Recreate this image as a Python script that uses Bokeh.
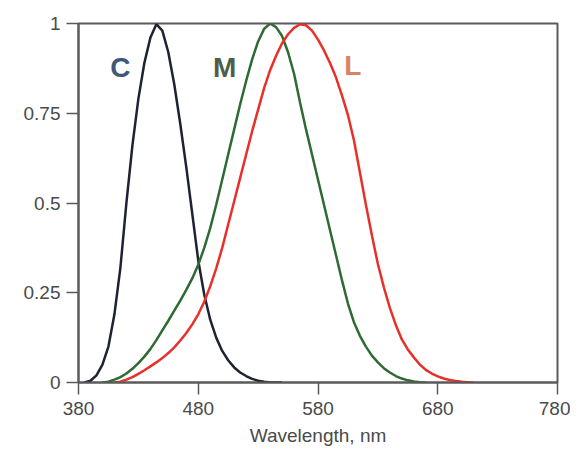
from bokeh.plotting import figure
from bokeh.models import Range1d, FixedTicker, Label
from bokeh.embed import file_html
from bokeh.resources import INLINE

# S-cone (C)
c_wl = [385, 390, 395, 400, 405, 410, 415, 420, 425, 430, 435, 440, 445, 450, 455, 460,
        465, 470, 475, 480, 485, 490, 495, 500, 505, 510, 515, 520, 525, 530, 535, 540, 550]
c_val = [0.0, 0.005, 0.02, 0.05, 0.1, 0.19, 0.32, 0.5, 0.66, 0.79, 0.89, 0.96, 0.998, 0.98,
         0.92, 0.83, 0.72, 0.6, 0.47, 0.34, 0.245, 0.175, 0.125, 0.088, 0.062, 0.042, 0.028,
         0.018, 0.01, 0.005, 0.002, 0.0, 0.0]

# M-cone
m_wl = [400, 405, 410, 415, 420, 425, 430, 435, 440, 445, 450, 455, 460, 465, 470, 475,
        480, 485, 490, 495, 500, 505, 510, 515, 520, 525, 530, 535, 540, 545, 550, 555,
        560, 565, 570, 575, 580, 585, 590, 595, 600, 605, 610, 615, 620, 625, 630, 635,
        640, 645, 650, 655, 660, 665, 670]
m_val = [0.0, 0.002, 0.008, 0.015, 0.025, 0.038, 0.054, 0.072, 0.093, 0.118, 0.145, 0.172,
         0.2, 0.228, 0.258, 0.29, 0.328, 0.375, 0.43, 0.495, 0.565, 0.635, 0.705, 0.775,
         0.84, 0.9, 0.95, 0.985, 1.0, 0.99, 0.965, 0.92, 0.86, 0.78, 0.705, 0.635, 0.565,
         0.495, 0.425, 0.355, 0.285, 0.22, 0.168, 0.13, 0.1, 0.075, 0.056, 0.04, 0.028,
         0.018, 0.011, 0.006, 0.003, 0.001, 0.0]

# L-cone
l_wl = [410, 415, 420, 425, 430, 435, 440, 445, 450, 455, 460, 465, 470, 475, 480, 485,
        490, 495, 500, 505, 510, 515, 520, 525, 530, 535, 540, 545, 550, 555, 560, 565,
        570, 575, 580, 585, 590, 595, 600, 605, 610, 615, 620, 625, 630, 635, 640, 645,
        650, 655, 660, 665, 670, 675, 680, 685, 690, 695, 700, 705, 710]
l_val = [0.0, 0.002, 0.008, 0.015, 0.024, 0.034, 0.045, 0.056, 0.068, 0.082, 0.098, 0.117,
         0.138, 0.162, 0.19, 0.225, 0.268, 0.318, 0.375, 0.44, 0.505, 0.57, 0.635, 0.7, 0.76,
         0.82, 0.87, 0.91, 0.945, 0.97, 0.988, 0.998, 0.995, 0.98, 0.955, 0.925, 0.89,
         0.85, 0.8, 0.745, 0.675, 0.585, 0.495, 0.41, 0.33, 0.265, 0.208, 0.16, 0.12,
         0.092, 0.07, 0.05, 0.035, 0.025, 0.017, 0.011, 0.007, 0.004, 0.002, 0.001, 0.0]

x_ticks = [380, 480, 580, 680, 780]
y_ticks = [0, 0.25, 0.5, 0.75, 1]
y_tick_labels = {0: "0", 0.25: "0.25", 0.5: "0.5", 0.75: "0.75", 1: "1"}

curve_names = ["C", "M", "L"]

p = figure(width=570, height=448, output_backend="svg", toolbar_location=None,
           x_range=Range1d(380, 780), y_range=Range1d(0, 1),
           min_border_left=78, min_border_right=13, min_border_top=23, min_border_bottom=66)
p.background_fill_color = "white"
p.border_fill_color = "white"
p.outline_line_color = "#5a5a5a"
p.outline_line_width = 2
p.xgrid.visible = False
p.ygrid.visible = False

p.line(c_wl, c_val, line_color="#1e2233", line_width=2.5)
p.line(m_wl, m_val, line_color="#2f6a32", line_width=2.5)
p.line(l_wl, l_val, line_color="#e8302a", line_width=2.5)

for ax in (p.xaxis[0], p.yaxis[0]):
    ax.axis_line_color = "#5a5a5a"
    ax.axis_line_width = 2
    ax.major_tick_line_color = "#5a5a5a"
    ax.major_tick_line_width = 1.5
    ax.major_tick_in = 0
    ax.major_tick_out = 12
    ax.minor_tick_line_color = None
    ax.major_label_text_font = "Liberation Sans"
    ax.major_label_text_font_size = "19px"
    ax.major_label_text_color = "#4a4a4a"
    ax.major_label_standoff = 6

p.xaxis.major_label_standoff = 7
p.xaxis.ticker = FixedTicker(ticks=x_ticks)
p.yaxis.ticker = FixedTicker(ticks=y_ticks)
p.yaxis.major_label_overrides = y_tick_labels
p.xaxis.axis_label = "Wavelength, nm"
p.xaxis.axis_label_text_font = "Liberation Sans"
p.xaxis.axis_label_text_font_style = "normal"
p.xaxis.axis_label_text_font_size = "19px"
p.xaxis.axis_label_text_color = "#4a4a4a"
p.xaxis.axis_label_standoff = 7

label_pos = {"C": (415, 0.877, "#3f5878"), "M": (502, 0.877, "#4e5e48"), "L": (609, 0.883, "#d9826a")}
for name in curve_names:
    x, y, col = label_pos[name]
    p.add_layout(Label(x=x, y=y, text=name, text_align="center", text_baseline="middle",
                       text_font="Liberation Sans", text_font_style="bold",
                       text_font_size="28px", text_color=col))

open("out.html", "w").write(file_html(p, INLINE))
